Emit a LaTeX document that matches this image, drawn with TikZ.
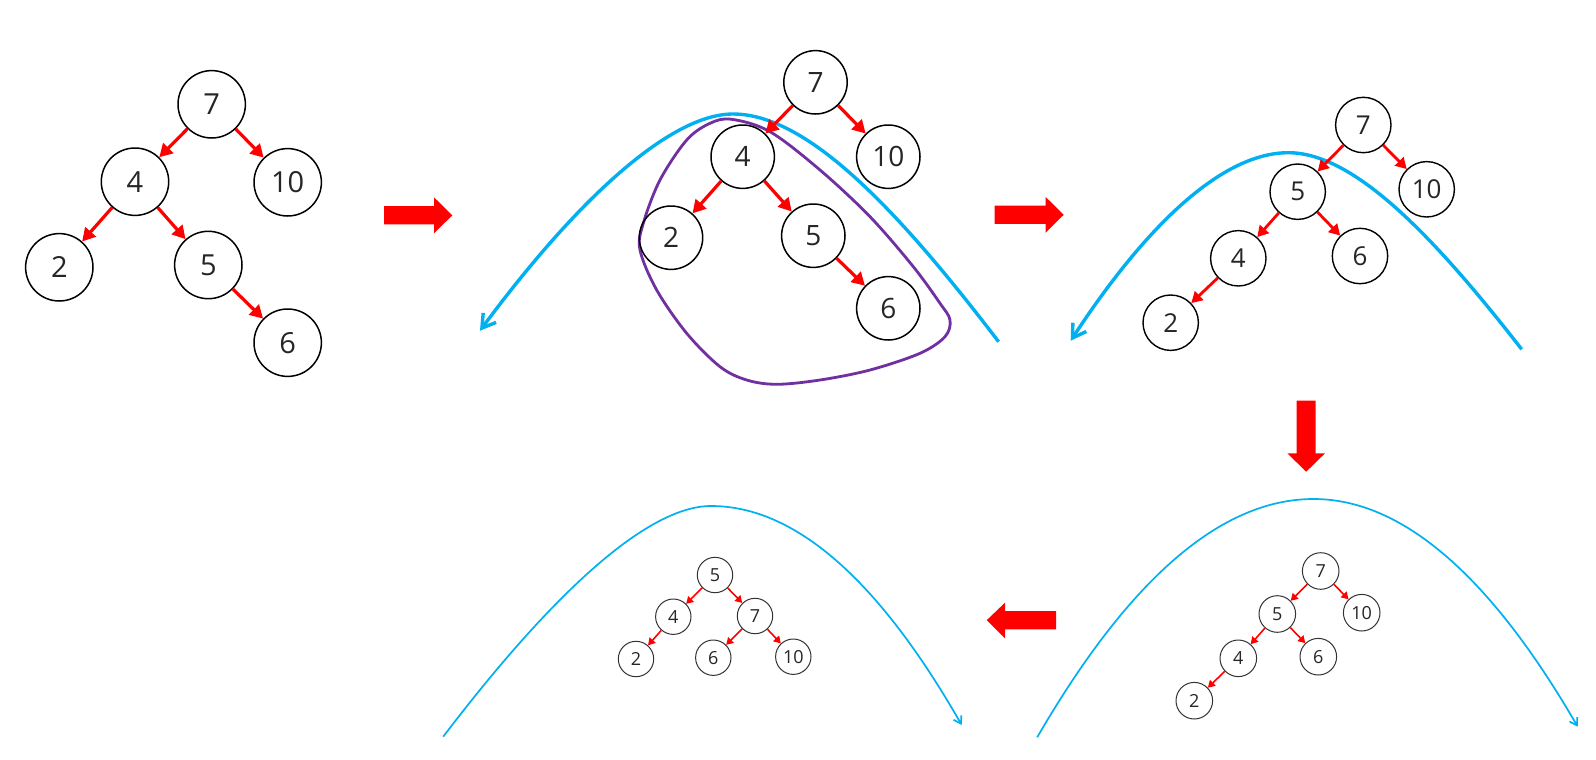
\documentclass[tikz,border=0pt]{standalone}
\usepackage{fontspec}
\setmainfont{Open Sans}
\usetikzlibrary{arrows.meta}
\definecolor{cblue}{HTML}{00B0F0}
\definecolor{cpurple}{HTML}{7030A0}
\definecolor{ctext}{HTML}{262626}
\begin{document}
\begin{tikzpicture}[x=0.5pt,y=-0.5pt,
  nd/.style={circle, draw=black, inner sep=0pt, text=ctext},
  ndA/.style={nd, minimum size=33.7pt, line width=0.75pt, font=\fontsize{14.5}{14.5}\selectfont},
  ndB/.style={nd, minimum size=31.7pt, line width=0.75pt, font=\fontsize{14}{14}\selectfont},
  ndC/.style={nd, minimum size=27.7pt, line width=0.7pt, font=\fontsize{13}{13}\selectfont},
  ndD/.style={nd, minimum size=18.3pt, line width=0.5pt, draw=black!80, font=\fontsize{9}{9}\selectfont},
  ndE/.style={nd, minimum size=17.7pt, line width=0.5pt, draw=black!80, font=\fontsize{9}{9}\selectfont},
  edgeBig/.style={red, line width=1.6pt, -{Triangle[length=6.5pt,width=7pt]}},
  edgeMid/.style={red, line width=1.4pt, -{Triangle[length=5.5pt,width=6pt]}},
  edgeSmall/.style={red, line width=0.8pt, -{Triangle[length=3.5pt,width=4pt]}},
  blueThick/.style={cblue, line width=1.7pt},
  blueThin/.style={cblue, line width=0.85pt},
  barbThick/.style={-{Straight Barb[length=6.5pt,width=8pt]}},
  barbThin/.style={-{Straight Barb[length=3.5pt,width=4.5pt]}},
  loopline/.style={cpurple, line width=1.4pt},
  blockarrow/.style={fill=red}
]
\path[fill=white] (0,0) rectangle (1596,760);
\useasboundingbox (0,0) rectangle (1596,760);

% ---------- Panel 1 ----------
\node[ndA] (a7) at (211.7,104.3) {7};
\node[ndA] (a4) at (135,181.7) {4};
\node[ndA] (a10) at (287.7,182.3) {10};
\node[ndA] (a2) at (59.3,267.3) {2};
\node[ndA] (a5) at (208.3,265) {5};
\node[ndA] (a6) at (287.7,342.7) {6};
\draw[edgeBig] (a7) -- (a4);
\draw[edgeBig] (a7) -- (a10);
\draw[edgeBig] (a4) -- (a2);
\draw[edgeBig] (a4) -- (a5);
\draw[edgeBig] (a5) -- (a6);

% block arrow 1
\path[blockarrow] (384,206) -- (434,206) -- (434,197.3) -- (452.3,215.3) -- (434,233.3) -- (434,224.3) -- (384,224.3) -- cycle;

% ---------- Panel 2 ----------
\draw[blueThick, barbThick] (998.6,341.7) .. controls (897.7,209.6) and (807.4,114) .. (733,114)
  .. controls (669.8,114) and (576.1,200.7) .. (480,330.7);
\draw[loopline] plot[smooth cycle, tension=0.55] coordinates {
  (731.7,119.3) (770,131.7) (820,170) (870,216.7) (913.3,266.7) (940,303.3) (950,320)
  (945,336.7) (920,353.3) (870,370) (820,380) (776.7,384.3) (746.7,380) (720,366.7)
  (686.7,333.3) (656.7,290) (640,250) (643.3,223.3) (660,180) (686.7,140) (710,123.3)};
\node[ndB] (b7) at (815.5,82.3) {7};
\node[ndB] (b4) at (742.7,156.7) {4};
\node[ndB] (b10) at (888.3,156.7) {10};
\node[ndB] (b2) at (671,237.7) {2};
\node[ndB] (b5) at (813.3,235.7) {5};
\node[ndB] (b6) at (888.3,308.3) {6};
\draw[edgeBig] (b7) -- (b4);
\draw[edgeBig] (b7) -- (b10);
\draw[edgeBig] (b4) -- (b2);
\draw[edgeBig] (b4) -- (b5);
\draw[edgeBig] (b5) -- (b6);

% block arrow 2
\path[blockarrow] (994.5,205.7) -- (1045.5,205.7) -- (1045.5,196.8) -- (1063.7,214.8) -- (1045.5,232.8) -- (1045.5,223.9) -- (994.5,223.9) -- cycle;

% ---------- Panel 3 ----------
\draw[blueThick, barbThick] (1521.7,349.3) .. controls (1433,235.3) and (1353.7,152.7) .. (1288.3,152.7)
  .. controls (1223,152.7) and (1146.9,224.1) .. (1070.7,340.7);
\node[ndC] (c7) at (1363.3,125) {7};
\node[ndC] (c5) at (1297.7,191.7) {5};
\node[ndC] (c10) at (1426.7,189.3) {10};
\node[ndC] (c4) at (1238.3,258.3) {4};
\node[ndC] (c6) at (1360,256) {6};
\node[ndC] (c2) at (1170.7,322.7) {2};
\draw[edgeMid] (c7) -- (c5);
\draw[edgeMid] (c7) -- (c10);
\draw[edgeMid] (c5) -- (c4);
\draw[edgeMid] (c5) -- (c6);
\draw[edgeMid] (c4) -- (c2);

% block arrow 3 (down)
\path[blockarrow] (1296.7,400.7) -- (1315.7,400.7) -- (1315.7,453.3) -- (1325,453.3) -- (1306.2,471.7) -- (1287.3,453.3) -- (1296.7,453.3) -- cycle;

% ---------- Panel 4 (bottom right) ----------
\draw[blueThin, barbThin] (1037.2,737.3) .. controls (1129.3,578.4) and (1221.5,499) .. (1313.6,499)
  .. controls (1401.6,499) and (1489.7,574.9) .. (1577.7,726.7);
\node[ndD] (d7) at (1320.7,571) {7};
\node[ndD] (d5) at (1277.3,614) {5};
\node[ndD] (d10) at (1361.7,612.7) {10};
\node[ndD] (d4) at (1238.3,658.3) {4};
\node[ndD] (d6) at (1318.3,656.7) {6};
\node[ndD] (d2) at (1194.3,700.7) {2};
\draw[edgeSmall] (d7) -- (d5);
\draw[edgeSmall] (d7) -- (d10);
\draw[edgeSmall] (d5) -- (d4);
\draw[edgeSmall] (d5) -- (d6);
\draw[edgeSmall] (d4) -- (d2);

% block arrow 4 (left)
\path[blockarrow] (1056,611) -- (1005,611) -- (1005,602.7) -- (986.7,620.2) -- (1005,638.3) -- (1005,629.3) -- (1056,629.3) -- cycle;

% ---------- Panel 5 (bottom middle) ----------
\draw[blueThin, barbThin] (443.2,736.7) .. controls (545,602.9) and (644,506) .. (711,506)
  .. controls (794.6,506) and (878.1,579) .. (961.7,725);
\node[ndE] (e5) at (715,575) {5};
\node[ndE] (e4) at (673.3,616.7) {4};
\node[ndE] (e7) at (755,616) {7};
\node[ndE] (e2) at (636,659) {2};
\node[ndE] (e6) at (713.3,657.7) {6};
\node[ndE] (e10) at (793.3,656.7) {10};
\draw[edgeSmall] (e5) -- (e4);
\draw[edgeSmall] (e5) -- (e7);
\draw[edgeSmall] (e4) -- (e2);
\draw[edgeSmall] (e7) -- (e6);
\draw[edgeSmall] (e7) -- (e10);
\end{tikzpicture}
\end{document}
